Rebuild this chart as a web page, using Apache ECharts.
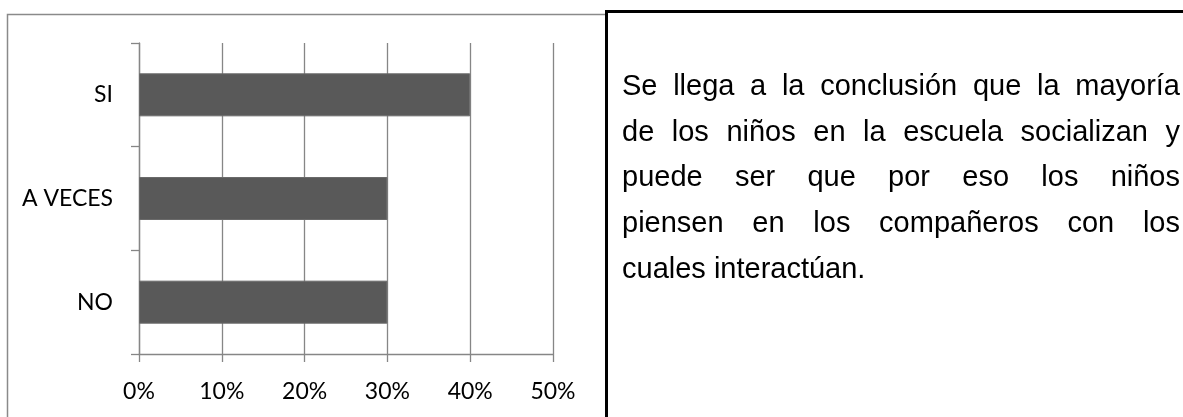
<!DOCTYPE html>
<html>
<head>
<meta charset="utf-8">
<script src="https://cdn.jsdelivr.net/npm/echarts@6/dist/echarts.min.js"></script>
<style>
html,body{margin:0;padding:0;background:#fff;}
#chart{position:absolute;left:0;top:0;width:1183px;height:417px;}
#note{position:absolute;left:622px;top:63px;width:558px;font-family:"Liberation Sans",Arial,sans-serif;font-size:29px;line-height:45.7px;color:#000;}
#note div{text-align:justify;text-align-last:justify;white-space:nowrap;}
#note div.last{text-align-last:left;}
</style>
</head>
<body>
<div id="chart"></div>
<div id="note"></div>
<script>
const categories = ['NO', 'A VECES', 'SI'];
const values = [30, 30, 40];
const xTicks = [0, 10, 20, 30, 40, 50];
const noteLines = [
  'Se llega a la conclusión que la mayoría',
  'de los niños en la escuela socializan y',
  'puede ser que por eso los niños',
  'piensen en los compañeros con los',
  'cuales interactúan.'
];

const note = document.getElementById('note');
noteLines.forEach((t, i) => {
  const d = document.createElement('div');
  d.textContent = t;
  if (i === noteLines.length - 1) d.className = 'last';
  note.appendChild(d);
});

const chart = echarts.init(document.getElementById('chart'), null, {renderer: 'canvas'});
const gray = '#868686';
chart.setOption({
  animation: false,
  backgroundColor: '#fff',
  grid: {left: 139, right: 630, top: 43, bottom: 63, containLabel: false},
  xAxis: {
    type: 'value',
    min: xTicks[0],
    max: xTicks[xTicks.length - 1],
    interval: 10,
    axisLine: {show: true, lineStyle: {color: gray, width: 1.3}},
    axisTick: {show: true, length: 8, lineStyle: {color: gray, width: 1.3}},
    splitLine: {show: true, lineStyle: {color: gray, width: 1.3}},
    axisLabel: {formatter: '{value}%', color: '#000', fontFamily: 'Lato', fontSize: 23, margin: 26}
  },
  yAxis: {
    type: 'category',
    data: categories,
    axisLine: {show: true, lineStyle: {color: gray, width: 1.3}},
    axisTick: {show: true, length: 8, lineStyle: {color: gray, width: 1.3}},
    axisLabel: {color: '#000', fontFamily: 'Lato', fontSize: 23, margin: 26}
  },
  series: [{
    type: 'bar',
    data: values,
    barWidth: 43,
    itemStyle: {color: '#595959', borderColor: '#6a6a6a', borderWidth: 1}
  }],
  graphic: [
    {type: 'polyline', shape: {points: [[7.5, 417], [7.5, 14.5], [606, 14.5]]}, style: {stroke: '#8a8a8a', lineWidth: 1.5, fill: null}, z: 10},
    {type: 'polyline', shape: {points: [[606.5, 417], [606.5, 11.5], [1183, 11.5]]}, style: {stroke: '#000', lineWidth: 3, fill: null}, z: 11}
  ]
});
</script>
</body>
</html>
